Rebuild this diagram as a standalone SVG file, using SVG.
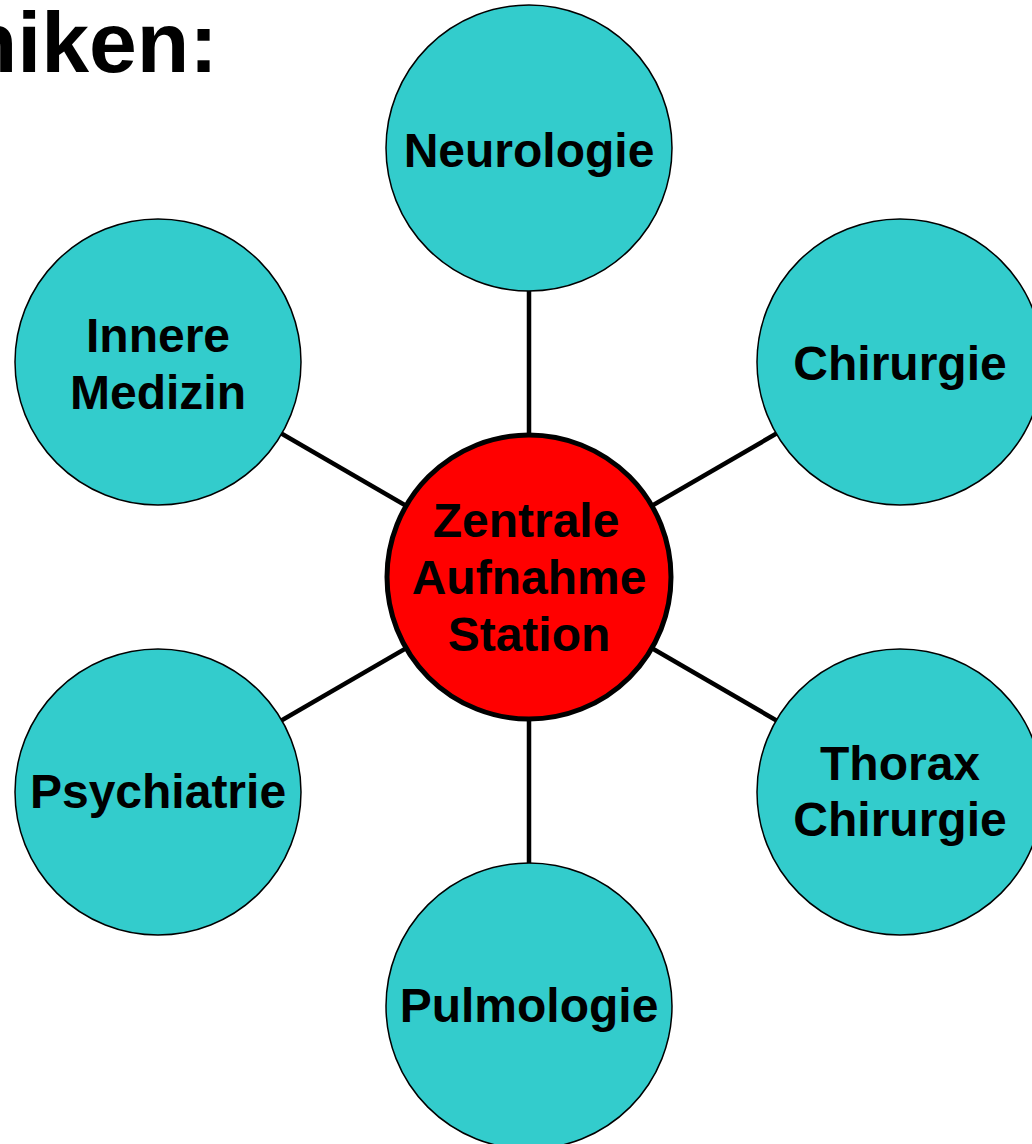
<svg xmlns="http://www.w3.org/2000/svg" width="1032" height="1144" viewBox="0 0 1032 1144">
<style>
.n{fill:#33CCCC;stroke:#000;stroke-width:1.5}
.c{fill:#FF0000;stroke:#000;stroke-width:5}
text{font-family:"Liberation Sans",Arial,sans-serif;font-weight:bold;font-size:48px;fill:#000;text-anchor:middle}
.t{font-size:86px;text-anchor:end}
line{stroke:#000;stroke-width:4.5}
</style>
<rect width="1032" height="1144" fill="#fff"/>
<text class="t" x="218" y="72">niken:</text>
<g id="connectors">
<line x1="529" y1="577" x2="529" y2="148"/>
<line x1="529" y1="577" x2="158" y2="362"/>
<line x1="529" y1="577" x2="900" y2="362"/>
<line x1="529" y1="577" x2="158" y2="792"/>
<line x1="529" y1="577" x2="900" y2="792"/>
<line x1="529" y1="577" x2="529" y2="1006"/>
</g>
<g id="neurologie"><circle class="n" cx="529" cy="148" r="143"/><text x="529" y="167">Neurologie</text></g>
<g id="innere-medizin"><circle class="n" cx="158" cy="362" r="143"/><text x="158" y="352">Innere</text><text x="158" y="409">Medizin</text></g>
<g id="chirurgie"><circle class="n" cx="900" cy="362" r="143"/><text x="900" y="380">Chirurgie</text></g>
<g id="psychiatrie"><circle class="n" cx="158" cy="792" r="143"/><text x="158" y="808">Psychiatrie</text></g>
<g id="thorax-chirurgie"><circle class="n" cx="900" cy="792" r="143"/><text x="900" y="780">Thorax</text><text x="900" y="836">Chirurgie</text></g>
<g id="pulmologie"><circle class="n" cx="529" cy="1006" r="143"/><text x="529" y="1022">Pulmologie</text></g>
<g id="zentrale-aufnahme"><circle class="c" cx="529" cy="577" r="142"/><text x="526" y="537">Zentrale</text><text x="529" y="594">Aufnahme</text><text x="529" y="651">Station</text></g>
</svg>
